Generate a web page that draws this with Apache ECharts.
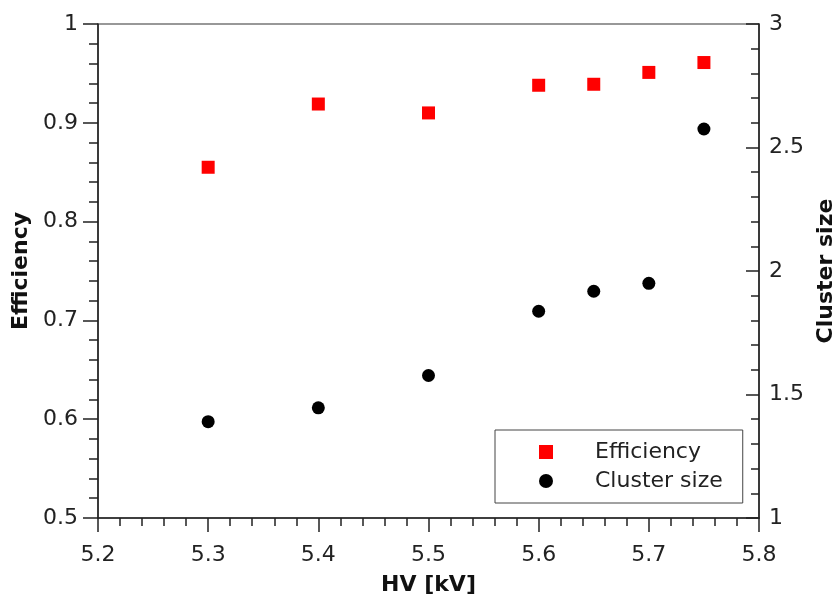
<!DOCTYPE html>
<html>
<head>
<meta charset="utf-8">
<script src="https://cdn.jsdelivr.net/npm/echarts@6/dist/echarts.min.js"></script>
<style>html,body{margin:0;padding:0;background:#fff;}#chart{width:838px;height:598px;}</style>
</head>
<body>
<div id="chart"></div>
<script>
const hv = [5.3, 5.4, 5.5, 5.6, 5.65, 5.7, 5.75];
const efficiency = [0.855, 0.919, 0.910, 0.938, 0.939, 0.951, 0.961];
const clusterSize = [1.39, 1.446, 1.577, 1.837, 1.918, 1.95, 2.575];
const seriesNames = ['Efficiency', 'Cluster size'];

const font = '"DejaVu Sans", sans-serif';
const axisColor = '#222';
const chart = echarts.init(document.getElementById('chart'), null, {renderer: 'canvas'});

const labelStyle = {fontFamily: font, fontSize: 22, color: '#222'};
const nameStyle = {fontFamily: font, fontSize: 22, fontWeight: 'bold', color: '#111'};

chart.setOption({
  animation: false,
  backgroundColor: '#fff',
  grid: {left: 98, right: 79, top: 24, bottom: 80, show: true, borderColor: '#333', borderWidth: 1.2,
         containLabel: false, outerBoundsMode: 'none'},
  legend: {
    orient: 'vertical', left: 495, top: 430,
    padding: [10, 20, 10, 44], itemGap: 5,
    itemWidth: 14, itemHeight: 14,
    borderColor: '#444', borderWidth: 1, backgroundColor: '#fff',
    textStyle: {fontFamily: font, fontSize: 22, lineHeight: 24, color: '#222', padding: [0, 0, 0, 37]},
    data: [{name: seriesNames[0], icon: 'rect'}, {name: seriesNames[1], icon: 'circle'}]
  },
  xAxis: {
    type: 'value', min: 5.2, max: 5.8, interval: 0.1,
    name: 'HV [kV]', nameLocation: 'middle', nameGap: 56, nameTextStyle: nameStyle,
    axisLine: {show: true, lineStyle: {color: axisColor, width: 1.5}},
    axisTick: {show: true, inside: false, length: 14, lineStyle: {color: axisColor, width: 1.5}},
    minorTick: {show: true, splitNumber: 5, length: 8, lineStyle: {color: axisColor, width: 1.5}},
    axisLabel: Object.assign({margin: 26, formatter: v => v.toFixed(1)}, labelStyle),
    splitLine: {show: false}
  },
  yAxis: [{
    type: 'value', min: 0.5, max: 1, interval: 0.1, position: 'left',
    name: 'Efficiency', nameLocation: 'middle', nameGap: 66, nameTextStyle: nameStyle,
    axisLine: {show: true, lineStyle: {color: axisColor, width: 1.5}},
    axisTick: {show: true, inside: false, length: 15, lineStyle: {color: axisColor, width: 1.5}},
    minorTick: {show: true, splitNumber: 5, length: 9, lineStyle: {color: axisColor, width: 1.5}},
    axisLabel: Object.assign({margin: 20, formatter: v => (Math.abs(v - 1) < 1e-9 ? '1' : v.toFixed(1))}, labelStyle),
    splitLine: {show: false}
  }, {
    type: 'value', min: 1, max: 3, interval: 0.5, position: 'right',
    name: 'Cluster size', nameLocation: 'middle', nameGap: 54, nameRotate: 90, nameTextStyle: nameStyle,
    axisLine: {show: true, lineStyle: {color: axisColor, width: 1.5}},
    axisTick: {show: true, inside: true, length: 13, lineStyle: {color: axisColor, width: 1.5}},
    minorTick: {show: true, splitNumber: 5, length: 8, lineStyle: {color: axisColor, width: 1.5}},
    axisLabel: Object.assign({margin: 10, formatter: v => String(v)}, labelStyle),
    splitLine: {show: false}
  }],
  series: [{
    name: seriesNames[0], type: 'scatter', yAxisIndex: 0, symbol: 'rect', symbolSize: 13,
    itemStyle: {color: '#ff0000', opacity: 1},
    data: hv.map((x, i) => [x, efficiency[i]])
  }, {
    name: seriesNames[1], type: 'scatter', yAxisIndex: 1, symbol: 'circle', symbolSize: 13,
    itemStyle: {color: '#000000', opacity: 1},
    data: hv.map((x, i) => [x, clusterSize[i]])
  }]
});
</script>
</body>
</html>
